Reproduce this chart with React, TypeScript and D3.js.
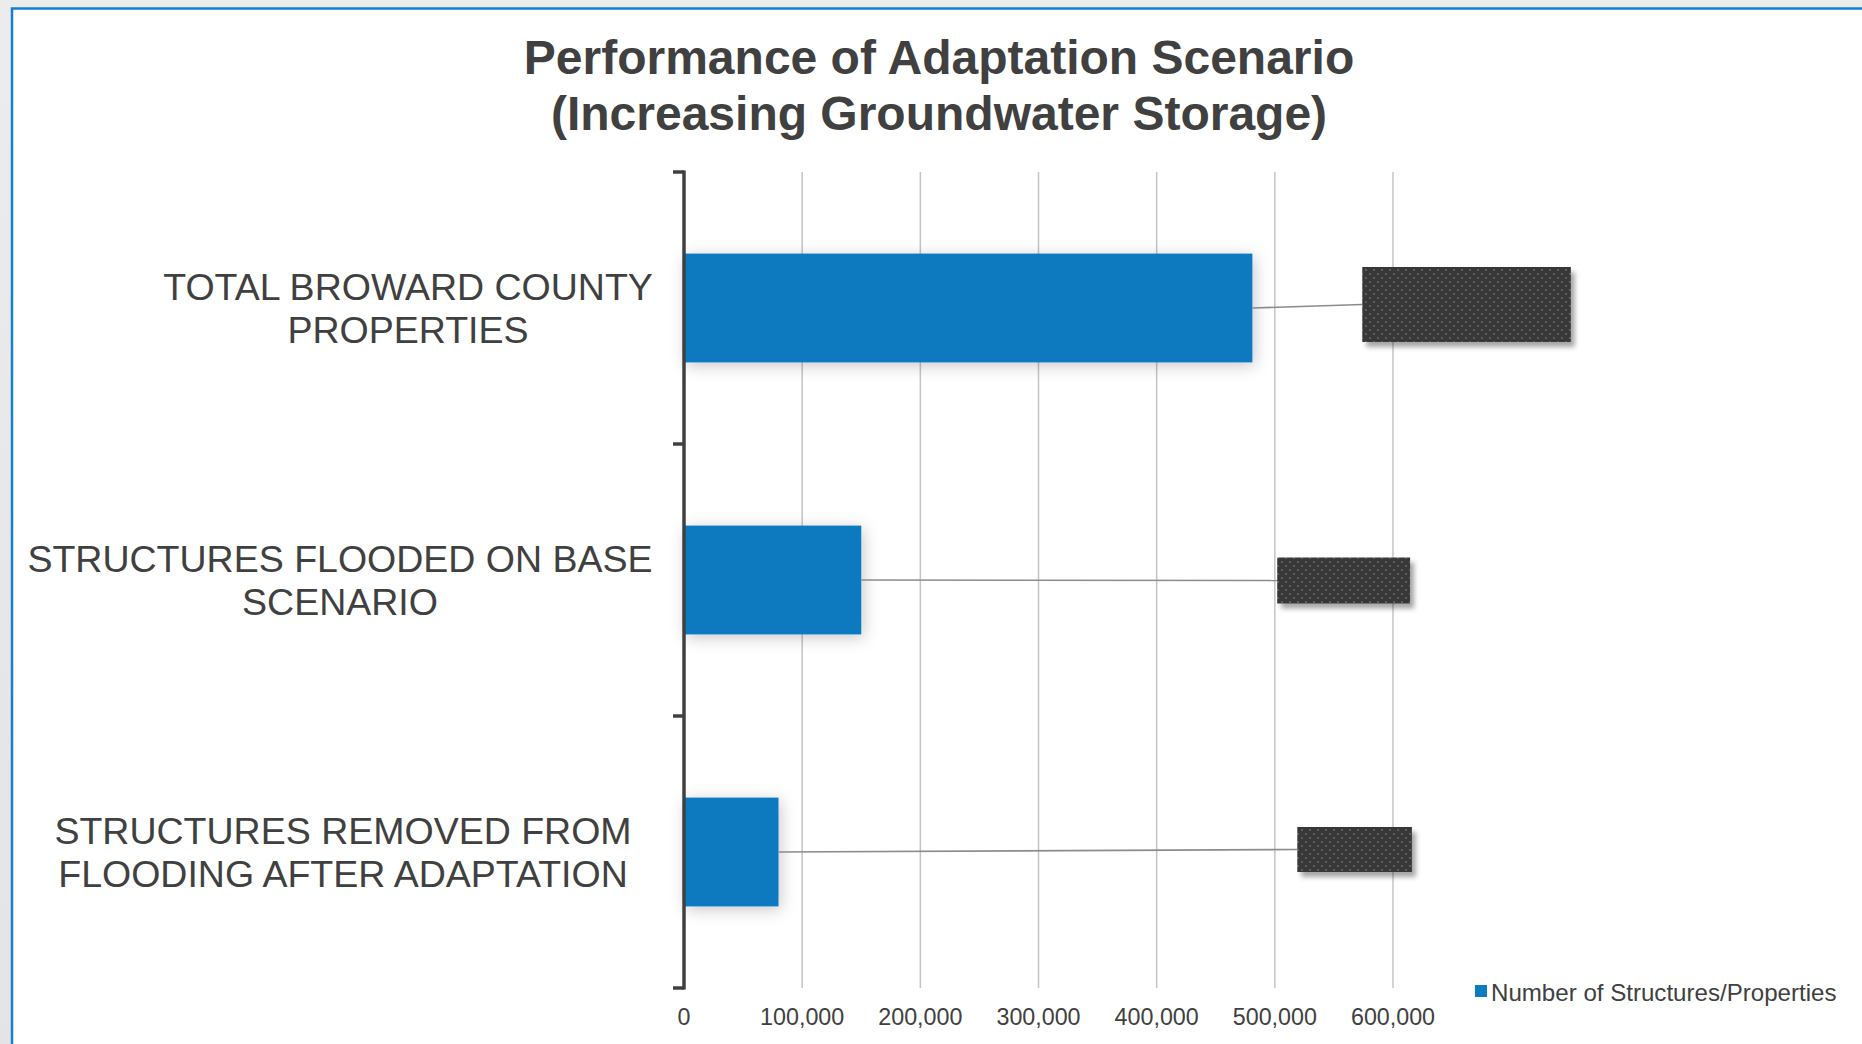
import React from "react";
import * as d3 from "d3";

// Chart content
const titleLines = ["Performance of Adaptation Scenario", "(Increasing Groundwater Storage)"];
const categories = [
  "TOTAL BROWARD COUNTY PROPERTIES",
  "STRUCTURES FLOODED ON BASE SCENARIO",
  "STRUCTURES REMOVED FROM FLOODING AFTER ADAPTATION",
];
const categoryLines = [
  ["TOTAL BROWARD COUNTY", "PROPERTIES"],
  ["STRUCTURES FLOODED ON BASE", "SCENARIO"],
  ["STRUCTURES REMOVED FROM", "FLOODING AFTER ADAPTATION"],
];
const values = [481000, 150000, 80000];
const seriesName = "Number of Structures/Properties";
const tickValues = [0, 100000, 200000, 300000, 400000, 500000, 600000];

// Callout boxes (covered data labels): extent in axis units, vertical offset / height in px
const calloutX0 = [574000, 502000, 519000];
const calloutX1 = [750500, 614500, 616000];
const calloutDy = [-3.5, 0.5, -2.5];
const calloutH = [75, 46, 45];
// Horizontal centre of each category label block
const labelCenterX = [408, 340, 343];

const W = 1862;
const H = 1044;
const FONT = "'Liberation Sans', Arial, Helvetica, sans-serif";
const TEXT = "#404040";
const BLUE = "#0e7ac0";

function Txt(props: {
  x: number;
  y: number;
  size: number;
  anchor?: string;
  weight?: string | number;
  squeeze?: number;
  children: React.ReactNode;
}) {
  const { x, y, size, anchor = "start", weight = "normal", squeeze = 1, children } = props;
  return (
    <text
      transform={`translate(${x},${y}) scale(${squeeze},1)`}
      fontSize={size}
      fontFamily={FONT}
      fontWeight={weight}
      fill={TEXT}
      textAnchor={anchor}
      dominantBaseline="central"
    >
      {children}
    </text>
  );
}

export default function App() {
  const x = d3.scaleLinear().domain([0, 600000]).range([684, 1393]);
  const y = d3
    .scaleBand<string>()
    .domain(categories)
    .range([172, 988])
    .paddingInner(0.6)
    .paddingOuter(0.3);
  const step = y.step();
  const fmt = d3.format(",");
  const top = 172;
  const bottom = 988;
  const catTicks = d3.range(categories.length + 1).map((i) => top + i * step);

  return (
    <svg
      width={W}
      height={H}
      style={{ position: "absolute", left: 0, top: 0, display: "block" }}
    >
      <defs>
        <linearGradient id="bgGrad" x1="0" y1="0" x2="0" y2="1">
          <stop offset="0" stopColor="#ececec" />
          <stop offset="1" stopColor="#e4e4e4" />
        </linearGradient>
        <filter id="barShadow" x="-20%" y="-40%" width="140%" height="180%">
          <feDropShadow dx="2" dy="3" stdDeviation="8" floodColor="#000" floodOpacity="0.22" />
        </filter>
        <filter id="boxShadow" x="-20%" y="-30%" width="150%" height="180%">
          <feDropShadow dx="4" dy="5" stdDeviation="2.5" floodColor="#000" floodOpacity="0.35" />
        </filter>
        <pattern id="dots" width="8" height="8" patternUnits="userSpaceOnUse">
          <rect width="8" height="8" fill="#393939" />
          <rect x="1" y="1" width="2" height="2" fill="#5c5c5c" />
          <rect x="5" y="5" width="2" height="2" fill="#5c5c5c" />
        </pattern>
      </defs>

      {/* page backdrop and card frame */}
      <rect width={W} height={H} fill="url(#bgGrad)" />
      <rect x={12} y={8.5} width={W + 20} height={H + 20} fill="#fff" stroke="#1580d2" strokeWidth={2.5} />

      {/* title */}
      {titleLines.map((t, i) => (
        <Txt key={t} x={939} y={57 + i * 56} size={48} anchor="middle" weight="bold">
          {t}
        </Txt>
      ))}

      {/* vertical gridlines */}
      {tickValues
        .filter((v) => v > 0)
        .map((v) => (
          <line key={v} x1={x(v)} x2={x(v)} y1={top} y2={bottom} stroke="#c4c4c4" strokeWidth={1.5} />
        ))}

      {/* bars */}
      {categories.map((c, i) => (
        <rect
          key={c}
          x={x(0)}
          y={y(c)!}
          width={x(values[i]) - x(0)}
          height={y.bandwidth()}
          fill={BLUE}
          filter="url(#barShadow)"
        />
      ))}

      {/* leader lines and callout boxes */}
      {categories.map((c, i) => {
        const cy = y(c)! + y.bandwidth() / 2;
        const by = cy + calloutDy[i];
        const bx0 = x(calloutX0[i]);
        const bx1 = x(calloutX1[i]);
        return (
          <g key={c}>
            <line x1={x(values[i])} y1={cy} x2={bx0} y2={by} stroke="#8c8c8c" strokeWidth={1.6} />
            <rect
              x={bx0}
              y={by - calloutH[i] / 2}
              width={bx1 - bx0}
              height={calloutH[i]}
              fill="url(#dots)"
              filter="url(#boxShadow)"
            />
          </g>
        );
      })}

      {/* category axis */}
      <line x1={x(0)} x2={x(0)} y1={top - 1.5} y2={bottom + 1.5} stroke="#404040" strokeWidth={3.5} />
      {catTicks.map((ty) => (
        <line key={ty} x1={673} x2={x(0)} y1={ty} y2={ty} stroke="#404040" strokeWidth={3.5} />
      ))}

      {/* category labels */}
      {categories.map((c, i) => {
        const cy = y(c)! + y.bandwidth() / 2;
        const lines = categoryLines[i];
        const lh = 43;
        return lines.map((ln, j) => (
          <Txt
            key={c + j}
            x={labelCenterX[i]}
            y={cy + (j - (lines.length - 1) / 2) * lh}
            size={37.5}
            anchor="middle"
          >
            {ln}
          </Txt>
        ));
      })}

      {/* value axis labels */}
      {tickValues.map((v) => (
        <Txt key={v} x={x(v)} y={1017} size={24} anchor="middle" squeeze={0.97}>
          {fmt(v)}
        </Txt>
      ))}

      {/* legend */}
      <rect x={1475} y={985} width={12} height={12} fill={BLUE} />
      <Txt x={1491} y={992} size={24.1}>
        {seriesName}
      </Txt>
    </svg>
  );
}
